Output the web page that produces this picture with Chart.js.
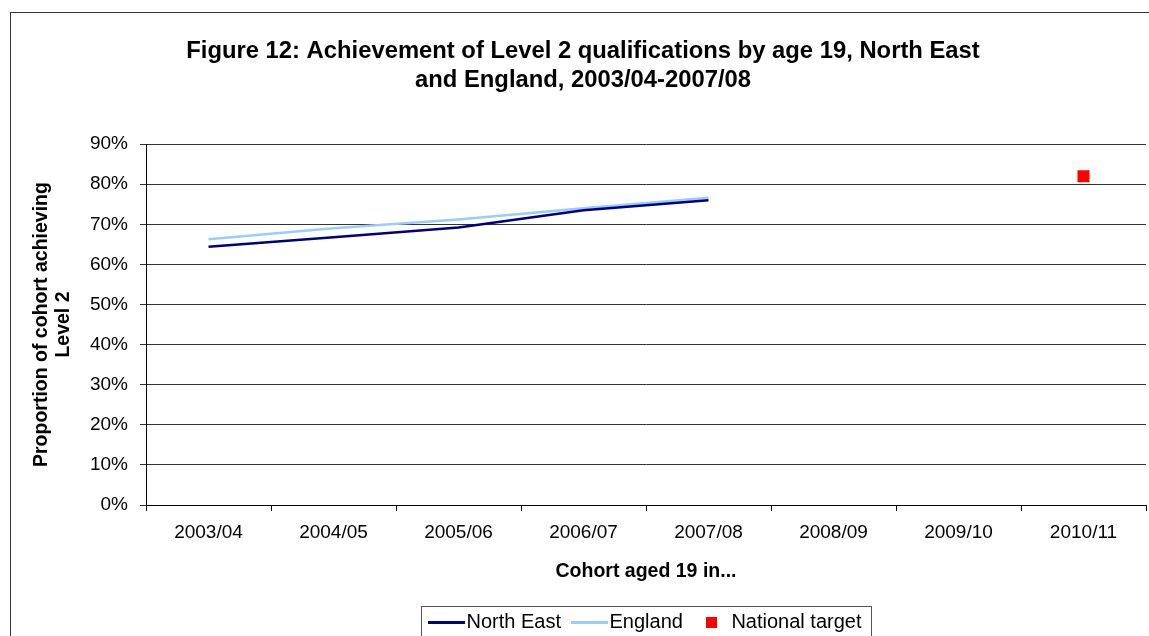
<!DOCTYPE html>
<html lang="en">
<head>
    <meta charset="UTF-8">
    <title>Figure 12: Achievement of Level 2 qualifications by age 19</title>
    <script src="https://cdn.jsdelivr.net/npm/chart.js"></script>
    <style>
        body {
            margin: 0;
            background-color: #fff;
        }
        .chart-box {
            position: relative;
            width: 1149px;
            height: 636px;
        }
    </style>
</head>
<body>
    <div class="chart-box">
        <canvas id="level2Chart"></canvas>
    </div>

    <script>
        // Cohort years (x axis)
        const cohorts = ['2003/04', '2004/05', '2005/06', '2006/07', '2007/08', '2008/09', '2009/10', '2010/11'];

        // Series values (% of cohort achieving Level 2)
        const northEast = [64.4, 66.8, 69.2, 73.5, 76.0, null, null, null];
        const england = [66.3, 69.0, 71.2, 74.0, 76.6, null, null, null];
        const nationalTarget = [null, null, null, null, null, null, null, 82];

        const yTicks = [0, 10, 20, 30, 40, 50, 60, 70, 80, 90];

        // legend markers as small canvases (line = 37px bar, target = 11px square)
        function legendMarker(kind, color) {
            const c = document.createElement('canvas');
            const g = c.getContext('2d');
            if (kind === 'line') {
                c.width = 37;
                c.height = 3;
                g.fillStyle = color;
                g.fillRect(0, 0, 37, 3);
            } else {
                c.width = 11;
                c.height = 11;
                g.fillStyle = color;
                g.fillRect(0, 0, 11, 11);
            }
            return c;
        }
        const markers = [
            legendMarker('line', '#000080'),
            legendMarker('line', '#99ccff'),
            legendMarker('square', '#ff0000')
        ];

        // nudge title/legend to where they sit in the original, draw frames
        const framePlugin = {
            id: 'frame',
            afterLayout(chart) {
                chart.titleBlock.left += 5;
                chart.titleBlock.right += 5;
                const lg = chart.legend;
                lg.left += 71;
                lg.right += 71;
                lg.top += 6.5;
                lg.bottom += 6.5;
            },
            afterDraw(chart) {
                const ctx = chart.ctx;
                ctx.save();
                ctx.strokeStyle = '#333';
                ctx.lineWidth = 1;
                ctx.strokeRect(10.5, 12.5, 1200, 700);
                const boxes = chart.legend.legendHitBoxes;
                if (boxes && boxes.length) {
                    const left = Math.min(...boxes.map(b => b.left)) - 15.5;
                    const right = Math.max(...boxes.map(b => b.left + b.width)) + 10;
                    const top = boxes[0].top + boxes[0].height / 2 - 17;
                    ctx.strokeStyle = '#555';
                    ctx.strokeRect(Math.round(left) + 0.5, Math.round(top) + 0.5, Math.round(right - left), 60);
                }
                ctx.restore();
            }
        };

        Chart.defaults.font.family = 'Arial, "Liberation Sans", sans-serif';
        Chart.defaults.color = '#000';

        new Chart(document.getElementById('level2Chart'), {
            type: 'line',
            data: {
                labels: cohorts,
                datasets: [
                    {
                        label: 'North East',
                        data: northEast,
                        borderColor: '#000080',
                        backgroundColor: '#000080',
                        borderWidth: 2.5,
                        pointRadius: 0,
                        tension: 0
                    },
                    {
                        label: 'England',
                        data: england,
                        borderColor: '#99ccff',
                        backgroundColor: '#99ccff',
                        borderWidth: 2.5,
                        pointRadius: 0,
                        tension: 0
                    },
                    {
                        label: 'National target',
                        data: nationalTarget,
                        borderColor: '#ff0000',
                        backgroundColor: '#ff0000',
                        showLine: false,
                        pointStyle: 'rect',
                        pointRadius: 8.5,
                        pointBorderWidth: 0
                    }
                ]
            },
            options: {
                responsive: true,
                maintainAspectRatio: false,
                animation: false,
                layout: {
                    autoPadding: false,
                    padding: { left: 10, right: 3, top: 0, bottom: 0 }
                },
                plugins: {
                    title: {
                        display: true,
                        text: ['Figure 12: Achievement of Level 2 qualifications by age 19, North East',
                               'and England, 2003/04-2007/08'],
                        font: { size: 23.8, weight: 'bold', lineHeight: 1.2 },
                        color: '#000',
                        padding: { top: 37.5, bottom: 49.5 }
                    },
                    legend: {
                        position: 'bottom',
                        labels: {
                            usePointStyle: true,
                            boxWidth: 22,
                            boxHeight: 10,
                            padding: 18.5,
                            font: { size: 20 },
                            color: '#000',
                            generateLabels(chart) {
                                const items = Chart.defaults.plugins.legend.labels.generateLabels(chart);
                                items.forEach((it, i) => { it.pointStyle = markers[i]; });
                                return items;
                            }
                        }
                    },
                    tooltip: { enabled: false }
                },
                scales: {
                    x: {
                        offset: true,
                        grid: {
                            offset: true,
                            drawOnChartArea: false,
                            drawTicks: true,
                            tickLength: 6,
                            color: '#000'
                        },
                        border: { color: '#000' },
                        ticks: {
                            font: { size: 19 },
                            padding: 10,
                            maxRotation: 0
                        },
                        title: {
                            display: true,
                            text: 'Cohort aged 19 in...',
                            font: { size: 19.5, weight: 'bold' },
                            padding: { top: 4, bottom: 4.5 }
                        },
                        afterFit(scale) {
                            scale.height = 82.5;
                        }
                    },
                    y: {
                        min: 0,
                        max: 90,
                        afterBuildTicks(scale) {
                            scale.ticks = yTicks.map(v => ({ value: v }));
                        },
                        grid: {
                            color: '#333',
                            tickLength: 6
                        },
                        border: { color: '#000' },
                        ticks: {
                            font: { size: 19 },
                            padding: 12,
                            callback: v => v + '%'
                        },
                        title: {
                            display: true,
                            text: ['Proportion of cohort achieving', 'Level 2'],
                            font: { size: 19.5, weight: 'bold', lineHeight: 1.13 },
                            padding: { top: 21, bottom: 0 }
                        },
                        afterFit(scale) { scale.width = 136; }
                    }
                }
            },
            plugins: [framePlugin]
        });
    </script>
</body>
</html>
